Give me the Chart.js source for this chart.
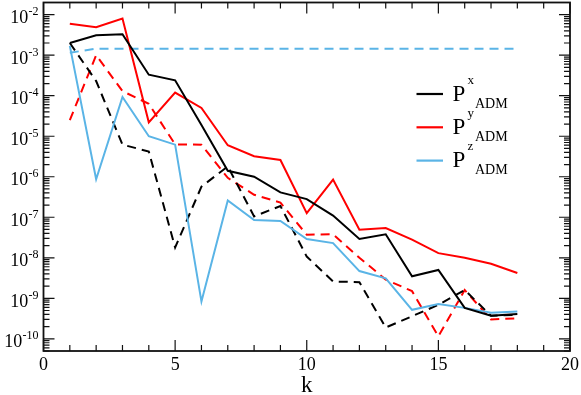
<!DOCTYPE html>
<html><head><meta charset="utf-8">
<script src="https://cdn.jsdelivr.net/npm/chart.js@4/dist/chart.umd.min.js"></script>
<style>html,body{margin:0;padding:0;background:#fff}</style>
</head><body>
<canvas id="c" width="581" height="395"></canvas>
<script>
// ---- data ----
const kValues = [1,2,3,4,5,6,7,8,9,10,11,12,13,14,15,16,17,18];
const pxSolid  = [2.0e-3,3.1e-3,3.3e-3,3.3e-4,2.4e-4,1.9e-5,1.4e-6,1.0e-6,4.1e-7,2.8e-7,1.1e-7,2.9e-8,3.8e-8,3.5e-9,5.0e-9,5.8e-10,3.7e-10,4.1e-10];
const pxDashed = [2.0e-3,2.3e-4,6.2e-6,4.2e-6,1.8e-8,5.7e-7,1.8e-6,1.05e-7,1.9e-7,1.07e-8,2.6e-9,2.5e-9,1.9e-10,3.6e-10,6.9e-10,1.6e-9,3.7e-10,3.9e-10];
const pySolid  = [6.0e-3,4.9e-3,8.0e-3,2.2e-5,1.2e-4,5.0e-5,6.0e-6,3.2e-6,2.6e-6,1.26e-7,8.5e-7,4.9e-8,5.4e-8,2.8e-8,1.3e-8,1.0e-8,7.1e-9,4.2e-9];
const pyDashed = [2.5e-5,1.0e-3,1.3e-4,6.3e-5,6.3e-6,6.2e-6,9.4e-7,3.6e-7,2.3e-7,3.7e-8,3.8e-8,1.0e-8,2.9e-9,1.5e-9,1.15e-10,1.6e-9,3.0e-10,3.2e-10];
const pzSolid  = [1.7e-3,8.7e-7,9.3e-5,1.0e-5,6.2e-6,8.3e-10,2.6e-7,8.5e-8,8.1e-8,2.9e-8,2.3e-8,4.7e-9,3.1e-9,5.2e-10,7.2e-10,5.8e-10,4.4e-10,4.7e-10];
const pzDashed = [1.15e-3,1.45e-3,1.45e-3,1.45e-3,1.45e-3,1.45e-3,1.45e-3,1.45e-3,1.45e-3,1.45e-3,1.45e-3,1.45e-3,1.45e-3,1.45e-3,1.45e-3,1.45e-3,1.45e-3,1.45e-3];
const xMajorTicks = [0,5,10,15,20];
const xMinorTicks = [1,2,3,4,6,7,8,9,11,12,13,14,16,17,18,19];
const yDecadeExponents = [-11,-10,-9,-8,-7,-6,-5,-4,-3,-2];
const legendNames = ["x","y","z"];
const xTitle = "k";

const BLACK = "#000000", RED = "#ff0000", BLUE = "#5ab4e6";
const SERIF = '"Liberation Serif","Times New Roman",Times,serif';

function pts(arr){ return kValues.map((k,i)=>({x:k,y:arr[i]})); }
const DASH = [9,6];

const datasets = [
  {label:"Px", data:pts(pxSolid), borderColor:BLACK, borderWidth:2},
  {label:"Py", data:pts(pySolid), borderColor:RED, borderWidth:2},
  {label:"Pz", data:pts(pzSolid), borderColor:BLUE, borderWidth:2},
  {label:"Px dashed", data:pts(pxDashed), borderColor:BLACK, borderWidth:2, borderDash:DASH},
  {label:"Py dashed", data:pts(pyDashed), borderColor:RED, borderWidth:2, borderDash:DASH},
  {label:"Pz dashed", data:pts(pzDashed), borderColor:BLUE, borderWidth:2, borderDash:DASH}
];

const axesPlugin = {
  id:'axesPlugin',
  afterDraw(chart){
    const ctx = chart.ctx, a = chart.chartArea;
    const xs = chart.scales.x, ys = chart.scales.y;
    ctx.save();
    ctx.strokeStyle = "#111"; ctx.lineWidth = 1.8; ctx.setLineDash([]);
    ctx.strokeRect(a.left, a.top, a.right-a.left, a.bottom-a.top);
    ctx.lineWidth = 1.2;
    const MAJ = 11, MIN = 6;
    ctx.beginPath();
    xMajorTicks.forEach(v=>{ const p = xs.getPixelForValue(v);
      ctx.moveTo(p,a.bottom); ctx.lineTo(p,a.bottom-MAJ); ctx.moveTo(p,a.top); ctx.lineTo(p,a.top+MAJ); });
    xMinorTicks.forEach(v=>{ const p = xs.getPixelForValue(v);
      ctx.moveTo(p,a.bottom); ctx.lineTo(p,a.bottom-MIN); ctx.moveTo(p,a.top); ctx.lineTo(p,a.top+MIN); });
    yDecadeExponents.forEach(e=>{
      for(let m=1;m<=9;m++){
        const v = m*Math.pow(10,e);
        if (v < ys.min*0.999 || v > ys.max*1.001) continue;
        const p = ys.getPixelForValue(v);
        const L = (m===1)?MAJ:MIN;
        ctx.moveTo(a.left,p); ctx.lineTo(a.left+L,p); ctx.moveTo(a.right,p); ctx.lineTo(a.right-L,p);
      }
    });
    ctx.stroke();
    // labels
    ctx.fillStyle = "#000";
    ctx.textBaseline = "alphabetic";
    ctx.font = "18px " + SERIF;
    ctx.textAlign = "center";
    xMajorTicks.forEach(v=>{ ctx.fillText(String(v), xs.getPixelForValue(v), 370); });
    yDecadeExponents.forEach(e=>{
      const v = Math.pow(10,e);
      if (v < ys.min || v > ys.max) return;
      const p = ys.getPixelForValue(v);
      const sup = "-" + Math.abs(e);
      ctx.font = "12px " + SERIF;
      const ws = ctx.measureText(sup).width;
      const supLeft = 38.5 - ws;
      ctx.textAlign = "left";
      ctx.fillText(sup, supLeft, p + 0.5);
      ctx.font = "18px " + SERIF;
      ctx.textAlign = "right";
      ctx.fillText("10", supLeft - 0.3, p + 8.5);
    });
    ctx.font = "23px " + SERIF;
    ctx.textAlign = "center";
    ctx.fillText(xTitle, (a.left+a.right)/2, 392);
    // legend
    const colors = [BLACK, RED, BLUE];
    legendNames.forEach((n,i)=>{
      const ly = 94 + i*33.3;
      ctx.strokeStyle = colors[i]; ctx.lineWidth = 2.2;
      ctx.beginPath(); ctx.moveTo(416.5, ly); ctx.lineTo(443, ly); ctx.stroke();
      ctx.fillStyle = "#000";
      ctx.textAlign = "left";
      ctx.font = "23px " + SERIF;
      ctx.fillText("P", 452.5, ly + 6.5);
      ctx.font = "13px " + SERIF;
      ctx.fillText(n, 467.5, ly - 10.5);
      ctx.font = "14px " + SERIF;
      ctx.fillText("ADM", 475, ly + 13.5);
    });
    ctx.restore();
  }
};

function build(){
  new Chart(document.getElementById('c').getContext('2d'), {
    type:'line',
    data:{datasets},
    options:{
      responsive:false, animation:false, devicePixelRatio:1,
      layout:{padding:{left:43.5, right:11, top:2.5, bottom:44}},
      elements:{point:{radius:0}, line:{tension:0, borderJoinStyle:'miter', fill:false}},
      plugins:{legend:{display:false}, tooltip:{enabled:false}},
      scales:{
        x:{type:'linear', min:0, max:20, display:false},
        y:{type:'logarithmic', min:5e-11, max:2e-2, display:false}
      }
    },
    plugins:[axesPlugin]
  });
}
if (document.fonts && document.fonts.load) {
  Promise.all([document.fonts.load('18px "Liberation Serif"'), document.fonts.load('12px "Liberation Serif"')])
    .then(build, build);
} else { build(); }
</script>
</body></html>
